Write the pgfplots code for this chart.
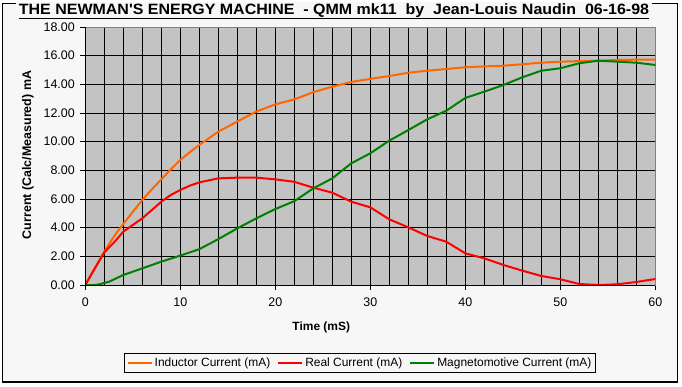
\documentclass[border=0pt]{standalone}
\usepackage{pgfplots}
\pgfplotsset{compat=1.18}
\usepackage{fontspec}
\setmainfont{Liberation Sans}
\definecolor{bgc}{HTML}{F7F7F7}
\definecolor{plotbg}{HTML}{C3C3C3}
\definecolor{orng}{HTML}{FF6600}
\definecolor{grn}{HTML}{008000}
\definecolor{rd}{HTML}{FF0000}
\begin{document}
\begin{tikzpicture}[x=1bp,y=1bp]
\fill[white] (0,0) rectangle (682,386);
\fill[bgc] (2.5,4) rectangle (677.7,382.3);
\draw[black, line width=1.2bp] (2.5,4) rectangle (677.7,382.3);
\begin{axis}[
 at={(85.3bp,101bp)}, anchor=south west,
 scale only axis, width=570bp, height=258bp,
 xmin=0, xmax=60, ymin=0, ymax=18,
 xtick={0,10,...,60}, minor xtick={2,4,...,58},
 ytick={0,2,...,18},
 grid=both,
 major grid style={black, line width=0.9bp},
 minor grid style={black, line width=0.9bp},
 axis background/.style={fill=plotbg},
 axis line style={gray, line width=0.9bp},
 tick align=outside, xtick pos=left, ytick pos=left,
 major tick length=5bp, minor tick length=0pt,
 tick style={black, line width=0.9bp},
 /pgf/number format/assume math mode=true,
 tick label style={font=\fontsize{12.5}{14}\selectfont},
 x tick label style={yshift=-4bp},
 y tick label style={xshift=-2bp, /pgf/number format/fixed, /pgf/number format/fixed zerofill, /pgf/number format/precision=2},
 xlabel={Time (mS)},
 xlabel style={at={(rel axis cs:0.414,-0.163)}, anchor=center, font=\fontsize{12}{14}\selectfont\bfseries},
 ylabel={Current (Calc/Measured) mA},
 ylabel style={at={(rel axis cs:-0.1005,0.504)}, anchor=center, font=\fontsize{12.5}{14}\selectfont\bfseries},
 legend style={at={(rel axis cs:0.482,-0.302)}, anchor=center, draw=black, fill=bgc, line width=0.9bp,
   font=\fontsize{12}{14}\selectfont, legend columns=3,
   /tikz/every even column/.append style={column sep=5bp}, inner xsep=2bp, inner ysep=2bp},
 legend image code/.code={\draw[#1] (0bp,0bp) -- (24bp,0bp);},
 legend cell align=left,
 after end axis/.code={\draw[black, line width=0.9bp] (rel axis cs:0,1) -- (rel axis cs:0,0) -- (rel axis cs:1,0);},
]
\addplot[orng, line width=2bp] coordinates {
(0,0)(1,1.16)(2,2.33)(3,3.37)(4,4.26)(5,5.1)(6,5.93)(7,6.67)(8,7.37)(9,8.07)(10,8.72)(11,9.26)(12,9.77)(14,10.7)(16,11.4)(18,12.1)(20,12.6)(22,12.95)(24,13.45)(26,13.84)(28,14.16)(30,14.38)(32,14.58)(34,14.81)(36,14.95)(38,15.07)(40,15.19)(42,15.25)(44,15.3)(46,15.4)(48,15.51)(50,15.58)(52,15.62)(54,15.65)(56,15.7)(58,15.72)(60,15.72)};
\addlegendentry{Inductor Current (mA)}
\addplot[rd, line width=2bp] coordinates {
(0,0)(1,1.16)(2,2.28)(3,2.95)(4,3.72)(5,4.19)(6,4.65)(7,5.23)(8,5.81)(9,6.28)(10,6.63)(11,6.93)(12,7.16)(14,7.44)(16,7.49)(18,7.49)(20,7.37)(22,7.2)(24,6.79)(26,6.44)(28,5.81)(30,5.42)(32,4.58)(34,4.02)(36,3.42)(38,3.02)(40,2.21)(42,1.86)(44,1.4)(46,1.0)(48,0.63)(50,0.4)(52,0.07)(54,0)(56,0.05)(58,0.21)(60,0.42)};
\addlegendentry{Real Current (mA)}
\addplot[grn, line width=2bp] coordinates {
(0,0)(1,0)(1.5,0.05)(2.5,0.23)(4,0.7)(6,1.16)(8,1.63)(10,2.05)(12,2.5)(14,3.2)(16,3.95)(18,4.65)(20,5.3)(22,5.85)(24,6.74)(26,7.44)(28,8.49)(30,9.19)(32,10.07)(34,10.81)(36,11.56)(38,12.16)(40,13.05)(42,13.49)(44,13.95)(46,14.49)(48,14.95)(50,15.12)(52,15.47)(54,15.65)(56,15.58)(58,15.51)(60,15.35)};
\addlegendentry{Magnetomotive Current (mA)}
\end{axis}
\node[anchor=base, fill=bgc, inner xsep=3bp, inner ysep=1bp, font=\fontsize{15}{17}\selectfont\bfseries] at (334,372) {\scalebox{1.07}[1]{\underline{THE NEWMAN\textquotesingle S ENERGY MACHINE\ \ - QMM mk11\ \ by\ \ Jean-Louis Naudin\ \ 06-16-98}}};
\end{tikzpicture}
\end{document}
